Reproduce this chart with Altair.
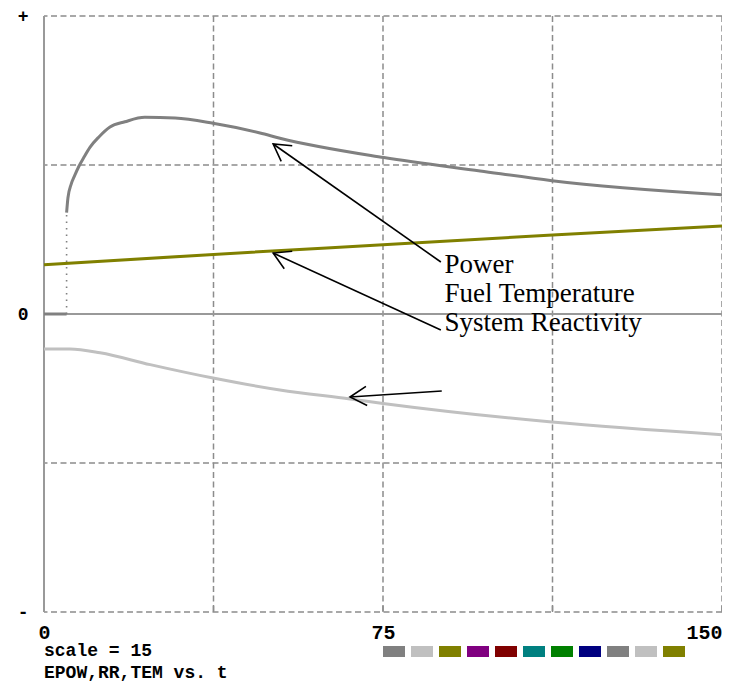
import math
import altair as alt
import pandas as pd

# ---------------- data ----------------
power_base_t = [0, 5.0]
power_base_v = [0, 0]
power_t = [5.0, 5.3, 6.0, 6.8, 7.7, 8.8, 10.2, 12.2, 14.6, 17.9, 22.3, 29.0, 37.4, 47.8, 52.2, 75.2, 96.5, 112.4, 150]
power_v = [0.68, 0.78, 0.87, 0.93, 0.99, 1.05, 1.12, 1.19, 1.255, 1.29, 1.32, 1.315, 1.28, 1.215, 1.18, 1.05, 0.96, 0.895, 0.80]
jump_t = [5.0]
jump_v0 = [0.0]
jump_v1 = [0.68]
fuel_t = [0, 37.5, 75, 112.5, 150]
fuel_v = [0.33, 0.40, 0.465, 0.53, 0.59]
react_t = [0, 5.75, 12.4, 23.5, 37.4, 52.2, 67.7, 75, 112.4, 150]
react_v = [-0.235, -0.235, -0.26, -0.34, -0.43, -0.51, -0.57, -0.60, -0.725, -0.81]

grid_t_dashed = [37.5, 75, 112.5, 150]
grid_v_dashed = [-2, -1, 1, 2]
grid_t_solid = [0]
grid_v_solid = [0]
x_ticks = [0, 75, 150]
y_ticks = [-2, 0, 2]

labels = ["Power", "Fuel Temperature", "System Reactivity"]
label_t = [88.6, 88.6, 88.6]
label_v = [0.275, 0.08, -0.114]

arrow_t0 = [87.8, 87.8, 88.0]
arrow_v0 = [0.349, -0.107, -0.517]
arrow_t1 = [50.7, 50.7, 67.7]
arrow_v1 = [1.141, 0.409, -0.557]

swatch_colors = ["#808080", "#c0c0c0", "#808000", "#800080", "#800000", "#008080",
                 "#008000", "#000080", "#808080", "#c0c0c0", "#808000"]
footer_lines = ["scale = 15", "EPOW,RR,TEM vs. t"]

series_names = ["Power", "Fuel Temperature", "System Reactivity"]
series_colors = ["#808080", "#808000", "#c0c0c0"]

# ---------------- layout ----------------
W, H = 678, 596
T_MIN, T_MAX = 0, 150
V_MIN, V_MAX = -2, 2
PX_T = W / (T_MAX - T_MIN)
PX_V = H / (V_MAX - V_MIN)
MONO = "Liberation Mono"
GRID = "#8c8c8c"

xs = alt.Scale(domain=[T_MIN, T_MAX], nice=False, zero=False)
ys = alt.Scale(domain=[V_MIN, V_MAX], nice=False, zero=False)

xaxis = alt.Axis(values=x_ticks, title=None, grid=False, domain=False, ticks=False,
                 labelFont=MONO, labelFontWeight="bold", labelFontSize=20, labelColor="black",
                 labelPadding=10, labelFlush=False,
                 labelAlign={"expr": "datum.value == 150 ? 'right' : 'center'"})
yaxis = alt.Axis(values=y_ticks, title=None, grid=False, domain=False, ticks=False,
                 labelFont=MONO, labelFontWeight="bold", labelFontSize=18, labelColor="black",
                 labelPadding=16, labelBaseline="middle",
                 labelExpr="datum.value > 0 ? '+' : (datum.value < 0 ? '-' : '0')")


def X(f):
    return alt.X(f"{f}:Q", scale=xs, axis=xaxis)


def Y(f):
    return alt.Y(f"{f}:Q", scale=ys, axis=yaxis)


# grid
g_hd = alt.Chart(pd.DataFrame({"v": grid_v_dashed})).mark_rule(
    color=GRID, strokeWidth=1.5, strokeDash=[6, 3.5]).encode(y=Y("v"))
g_vd = alt.Chart(pd.DataFrame({"t": grid_t_dashed})).mark_rule(
    color=GRID, strokeWidth=1.5, strokeDash=[6, 3.5]).encode(x=X("t"))
g_hs = alt.Chart(pd.DataFrame({"v": grid_v_solid})).mark_rule(
    color="#999999", strokeWidth=2).encode(y=Y("v"))
g_vs = alt.Chart(pd.DataFrame({"t": grid_t_solid})).mark_rule(
    color="#999999", strokeWidth=2).encode(x=X("t"))

# small tick marks on bottom edge
tick_df = pd.DataFrame({"t": grid_t_dashed, "v0": [V_MIN] * len(grid_t_dashed)})
g_ticks = alt.Chart(tick_df).transform_calculate(v1=f"datum.v0 + {6 / PX_V}").mark_rule(
    color=GRID, strokeWidth=1.5).encode(x=X("t"), y=Y("v0"), y2="v1:Q")

# curves
rows = []
for t, v in zip(power_base_t, power_base_v):
    rows.append({"series": "Power", "seg": "p0", "t": t, "v": v})
for t, v in zip(power_t, power_v):
    rows.append({"series": "Power", "seg": "p1", "t": t, "v": v})
for t, v in zip(fuel_t, fuel_v):
    rows.append({"series": "Fuel Temperature", "seg": "f", "t": t, "v": v})
for t, v in zip(react_t, react_v):
    rows.append({"series": "System Reactivity", "seg": "r", "t": t, "v": v})
lines_df = pd.DataFrame(rows)

curves = alt.Chart(lines_df).mark_line(strokeWidth=3, interpolate="monotone").encode(
    x=X("t"), y=Y("v"),
    color=alt.Color("series:N", scale=alt.Scale(domain=series_names, range=series_colors), legend=None),
    detail="seg:N", order="t:Q")

jump = alt.Chart(pd.DataFrame({"t": jump_t, "v0": jump_v0, "v1": jump_v1})).mark_rule(
    color="#808080", strokeWidth=1.6, strokeDash=[1.5, 5]).encode(x=X("t"), y=Y("v0"), y2="v1:Q")

# arrows
adf = pd.DataFrame({"t0": arrow_t0, "v0": arrow_v0, "t1": arrow_t1, "v1": arrow_v1})
adf["ang"] = [
    (math.degrees(math.atan2(-(b1 - b0) * PX_V, (a1 - a0) * PX_T)) + 360) % 360
    for a0, b0, a1, b1 in zip(arrow_t0, arrow_v0, arrow_t1, arrow_v1)
]
arrow_lines = alt.Chart(adf).mark_rule(color="black", strokeWidth=1.6).encode(
    x=X("t0"), y=Y("v0"), x2="t1:Q", y2="v1:Q")
arrow_heads = alt.Chart(adf).mark_point(
    shape="M-1,-0.577L0,0L-1,0.577", size=1100, filled=False, color="black",
    strokeWidth=1.6, opacity=1).encode(
    x=X("t1"), y=Y("v1"), angle=alt.Angle("ang:Q", scale=None))

# annotation text
text_df = pd.DataFrame({"label": labels, "t": label_t, "v": label_v})
ann = alt.Chart(text_df).mark_text(
    align="left", baseline="alphabetic", font="Liberation Serif", fontSize=27, color="black").encode(
    x=X("t"), y=Y("v"), text="label:N")

# colour swatches under the plot
sw_df = pd.DataFrame({"i": list(range(len(swatch_colors))), "c": swatch_colors})
swatches = alt.Chart(sw_df).transform_calculate(
    st=f"(350 + 28 * datum.i) / {PX_T}").mark_point(
    shape="M-1,-0.5L1,-0.5L1,0.5L-1,0.5Z", size=484, filled=True, opacity=1, strokeWidth=0).encode(
    x=X("st"), y=alt.value(635.5), color=alt.Color("c:N", scale=None))

foot1 = alt.Chart(pd.DataFrame({"s": [footer_lines[0]]})).mark_text(
    align="left", baseline="middle", font=MONO, fontWeight="bold", fontSize=18, color="black").encode(
    x=alt.value(0), y=alt.value(635), text="s:N")
foot2 = alt.Chart(pd.DataFrame({"s": [footer_lines[1]]})).mark_text(
    align="left", baseline="middle", font=MONO, fontWeight="bold", fontSize=18, color="black").encode(
    x=alt.value(0), y=alt.value(657), text="s:N")

chart = alt.layer(
    g_hd, g_vd, g_ticks, g_hs, g_vs, curves, jump, arrow_lines, arrow_heads, ann, swatches, foot1, foot2
).properties(
    width=W, height=H,
    autosize=alt.AutoSizeParams(type="none"),
    padding={"left": 36, "top": 8, "right": 0, "bottom": 72},
    background="white",
).configure_view(stroke=None)

chart.save("out.html", embed_options={"renderer": "svg", "actions": False})
